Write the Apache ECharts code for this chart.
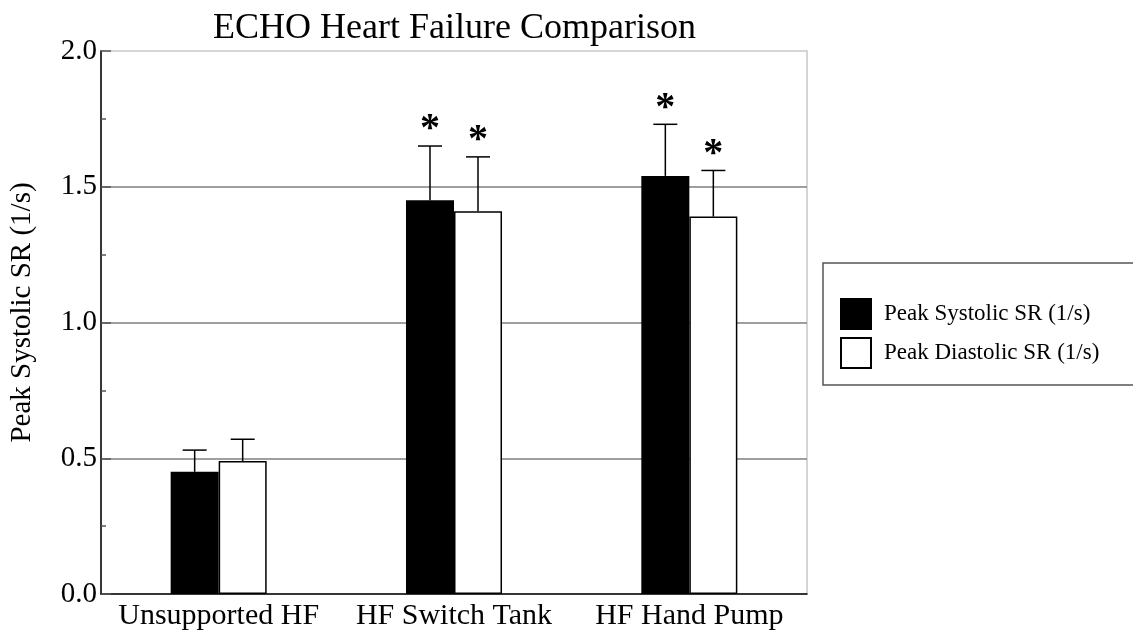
<!DOCTYPE html>
<html>
<head>
<meta charset="utf-8">
<title>ECHO Heart Failure Comparison</title>
<script src="https://cdn.jsdelivr.net/npm/echarts@6/dist/echarts.min.js"></script>
<style>
  html, body { margin: 0; padding: 0; background: #fff; }
  #main { width: 1133px; height: 638px; }
</style>
</head>
<body>
<div id="main"></div>
<script>
// data
var categories = ['Unsupported HF', 'HF Switch Tank', 'HF Hand Pump'];
var systolic = [0.45, 1.45, 1.54];
var systolicErr = [0.08, 0.20, 0.19];
var systolicSig = [0, 1, 1];
var diastolic = [0.49, 1.41, 1.39];
var diastolicErr = [0.08, 0.20, 0.17];
var diastolicSig = [0, 1, 1];
var yTicks = [0, 0.5, 1.0, 1.5, 2.0];

var FONT = "'Liberation Serif', 'Times New Roman', serif";
var BAR_FRAC = 0.204;

var chart = echarts.init(document.getElementById('main'));

// error bar + asterisk drawn on top of a bar; side = -1 left bar, +1 right bar
function errRender(side) {
  return function (params, api) {
    var cat = api.value(0), val = api.value(1), err = api.value(2), sig = api.value(3);
    var bw = api.size([1, 0])[0] * BAR_FRAC;
    var base = api.coord([cat, val]);
    var x = base[0] + side * bw / 2;
    var top = api.coord([cat, val + err])[1];
    var st = { stroke: '#000', lineWidth: 1.5 };
    var kids = [
      { type: 'line', shape: { x1: x, y1: base[1], x2: x, y2: top }, style: st },
      { type: 'line', shape: { x1: x - 12, y1: top, x2: x + 12, y2: top }, style: st }
    ];
    if (sig) {
      kids.push({
        type: 'text',
        style: {
          text: '*', x: x, y: top + 4, align: 'center', verticalAlign: 'bottom',
          font: 'bold 40px ' + FONT, fill: '#000'
        }
      });
    }
    return { type: 'group', children: kids };
  };
}

function errData(vals, errs, sigs) {
  return vals.map(function (v, i) { return [i, v, errs[i], sigs[i]]; });
}

chart.setOption({
  animation: false,
  backgroundColor: '#fff',
  title: {
    text: 'ECHO Heart Failure Comparison',
    left: 208,
    top: 6,
    textStyle: { fontFamily: FONT, fontSize: 36, fontWeight: 'normal', color: '#000' }
  },
  legend: {
    orient: 'vertical',
    left: 823,
    top: 263,
    padding: [35, 400, 16, 17],
    borderColor: '#555',
    borderWidth: 1.5,
    itemWidth: 30,
    itemHeight: 30,
    itemGap: 7,
    icon: 'rect',
    data: ['Peak Systolic SR (1/s)', 'Peak Diastolic SR (1/s)'],
    textStyle: { fontFamily: FONT, fontSize: 23, color: '#000', padding: [0, 0, 0, 8] }
  },
  grid: {
    left: 100, right: 326, top: 51, bottom: 44,
    show: true, borderColor: '#c8c8c8', borderWidth: 1.5
  },
  xAxis: {
    type: 'category',
    data: categories,
    axisLine: { lineStyle: { color: '#000', width: 1.5 } },
    axisTick: { inside: true, length: 8, lineStyle: { color: '#888', width: 1.5 } },
    axisLabel: { fontFamily: FONT, fontSize: 30, color: '#000', margin: 7, interval: 0, hideOverlap: false }
  },
  yAxis: {
    type: 'value',
    min: yTicks[0],
    max: yTicks[yTicks.length - 1],
    interval: 0.5,
    name: 'Peak Systolic SR (1/s)',
    nameLocation: 'middle',
    nameGap: 64,
    nameTextStyle: { fontFamily: FONT, fontSize: 29, color: '#000', padding: [0, 0, 0, 20] },
    axisLine: { show: true, lineStyle: { color: '#000', width: 1.5 } },
    axisTick: { show: true, inside: true, length: 10, lineStyle: { color: '#555', width: 1.5 } },
    minorTick: { show: true, splitNumber: 2, length: 5, lineStyle: { color: '#555', width: 1.5 } },
    axisLabel: {
      fontFamily: FONT, fontSize: 29, color: '#000', margin: 4,
      formatter: function (v) { return v.toFixed(1); }
    },
    splitLine: { show: true, showMinLine: false, showMaxLine: false, lineStyle: { color: '#7f7f7f', width: 1.5 } }
  },
  series: [
    {
      name: 'Peak Systolic SR (1/s)',
      type: 'bar',
      data: systolic,
      barWidth: (BAR_FRAC * 100) + '%',
      barGap: '0%',
      itemStyle: { color: '#000', borderColor: '#000', borderWidth: 1.5 }
    },
    {
      name: 'Peak Diastolic SR (1/s)',
      type: 'bar',
      data: diastolic,
      barWidth: (BAR_FRAC * 100) + '%',
      barGap: '0%',
      itemStyle: { color: '#fff', borderColor: '#000', borderWidth: 1.5 }
    },
    {
      type: 'custom',
      renderItem: errRender(-1),
      data: errData(systolic, systolicErr, systolicSig),
      encode: { x: 0, y: 1 },
      clip: false,
      z: 5
    },
    {
      type: 'custom',
      renderItem: errRender(1),
      data: errData(diastolic, diastolicErr, diastolicSig),
      encode: { x: 0, y: 1 },
      clip: false,
      z: 5
    }
  ]
});
</script>
</body>
</html>
